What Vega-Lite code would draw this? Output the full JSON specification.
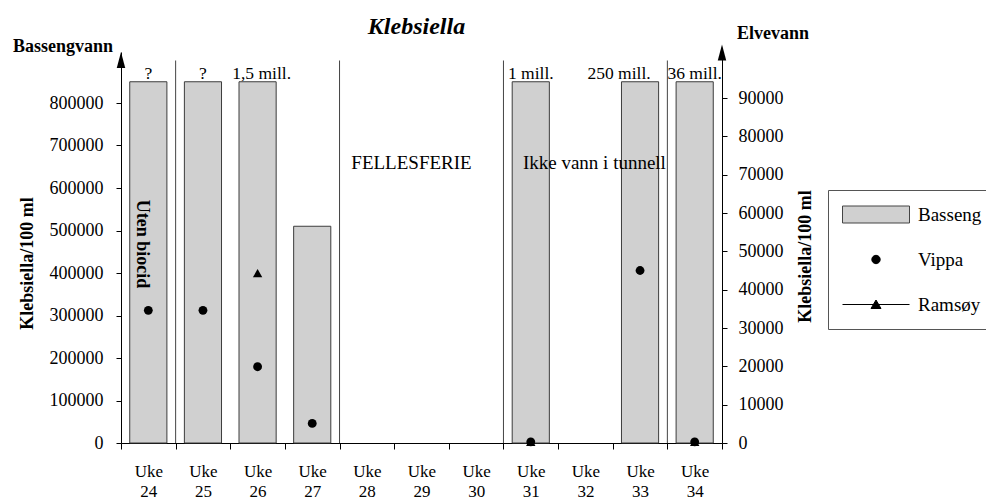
{
  "$schema": "https://vega.github.io/schema/vega-lite/v6.json",
  "width": 601,
  "height": 391,
  "autosize": "none",
  "padding": {"left": 121, "top": 52, "right": 264, "bottom": 57},
  "title": {"text": "Klebsiella", "font": "Liberation Serif", "fontSize": 24, "fontStyle": "italic", "fontWeight": "bold", "color": "black", "anchor": "middle", "dx": -5, "dy": 28, "offset": 14},
  "config": {
    "font": "Liberation Serif",
    "view": {"stroke": null},
    "axis": {"grid": false, "domainColor": "black", "tickColor": "black", "labelColor": "black", "titleColor": "black", "labelFont": "Liberation Serif", "titleFont": "Liberation Serif"},
    "text": {"color": "black", "font": "Liberation Serif"}
  },
  "datasets": {
    "weeks": [
      {"week": "Uke 24", "Basseng": 850000, "label": "?", "Vippa": 34600, "Ramsøy": null},
      {"week": "Uke 25", "Basseng": 850000, "label": "?", "Vippa": 34600, "Ramsøy": null},
      {"week": "Uke 26", "Basseng": 850000, "label": "1,5 mill.", "Vippa": 19900, "Ramsøy": 44300},
      {"week": "Uke 27", "Basseng": 510000, "label": null, "Vippa": 5100, "Ramsøy": null},
      {"week": "Uke 28", "Basseng": null, "label": null, "Vippa": null, "Ramsøy": null},
      {"week": "Uke 29", "Basseng": null, "label": null, "Vippa": null, "Ramsøy": null},
      {"week": "Uke 30", "Basseng": null, "label": null, "Vippa": null, "Ramsøy": null},
      {"week": "Uke 31", "Basseng": 850000, "label": "1 mill.", "Vippa": 300, "Ramsøy": 300},
      {"week": "Uke 32", "Basseng": null, "label": null, "Vippa": null, "Ramsøy": null},
      {"week": "Uke 33", "Basseng": 850000, "label": "250 mill.", "Vippa": 45000, "Ramsøy": null},
      {"week": "Uke 34", "Basseng": 850000, "label": "36 mill.", "Vippa": 300, "Ramsøy": 300}
    ],
    "separators": [
      {"sep": "Uke 25"}, {"sep": "Uke 28"}, {"sep": "Uke 31"}, {"sep": "Uke 34"}
    ]
  },
  "data": {"name": "weeks"},
  "resolve": {"scale": {"y": "independent"}},
  "layer": [
    {
      "layer": [
        {
          "mark": {"type": "bar", "fill": "#d0d0d0", "stroke": "#3c3c3c", "strokeWidth": 1, "width": {"band": 0.68}},
          "encoding": {
            "x": {"field": "week", "type": "ordinal",
              "scale": {"domain": ["Uke 24","Uke 25","Uke 26","Uke 27","Uke 28","Uke 29","Uke 30","Uke 31","Uke 32","Uke 33","Uke 34"], "paddingInner": 0, "paddingOuter": 0},
              "axis": {"title": null, "orient": "bottom", "tickBand": "extent", "labelAngle": 0, "labelExpr": "split(datum.label, ' ')", "labelFontSize": 17, "labelLineHeight": 20, "labelBaseline": "top", "tickSize": 6, "labelPadding": 14}},
            "y": {"field": "Basseng", "type": "quantitative",
              "scale": {"domain": [0, 920000], "nice": false},
              "axis": {"orient": "left", "values": [0,100000,200000,300000,400000,500000,600000,700000,800000], "format": "d", "labelFontSize": 18, "tickSize": 5, "labelPadding": 13,
                "title": "Klebsiella/100 ml", "titleFontSize": 18, "titleFontWeight": "bold", "titleAngle": 270, "titleX": -94, "titleY": 211, "titleAlign": "center", "titleBaseline": "middle"}}
          }
        },
        {
          "data": {"name": "separators"},
          "mark": {"type": "rule", "color": "#444", "strokeWidth": 1},
          "encoding": {
            "x": {"field": "sep", "type": "ordinal", "bandPosition": 0},
            "y": {"datum": 900000, "type": "quantitative"},
            "y2": {"datum": 0}
          }
        },
        {
          "transform": [{"filter": "datum.label != null && datum.label != '250 mill.' && datum.label != '1,5 mill.'"}],
          "mark": {"type": "text", "baseline": "alphabetic", "dy": -3, "fontSize": 17.5},
          "encoding": {
            "x": {"field": "week", "type": "ordinal"},
            "y": {"field": "Basseng", "type": "quantitative"},
            "text": {"field": "label"}
          }
        },
        {
          "transform": [{"filter": "datum.label == '1,5 mill.'"}],
          "mark": {"type": "text", "baseline": "alphabetic", "dy": -3, "dx": 4, "fontSize": 17.5},
          "encoding": {
            "x": {"field": "week", "type": "ordinal"},
            "y": {"field": "Basseng", "type": "quantitative"},
            "text": {"field": "label"}
          }
        },
        {
          "transform": [{"filter": "datum.label == '250 mill.'"}],
          "mark": {"type": "text", "baseline": "alphabetic", "dy": -3, "dx": -21, "fontSize": 17.5},
          "encoding": {
            "x": {"field": "week", "type": "ordinal"},
            "y": {"field": "Basseng", "type": "quantitative"},
            "text": {"field": "label"}
          }
        },
        {
          "data": {"values": [{}]},
          "mark": {"type": "text", "text": "FELLESFERIE", "fontSize": 19, "baseline": "middle", "dx": -10},
          "encoding": {
            "x": {"datum": "Uke 29", "type": "ordinal"},
            "y": {"datum": 660000, "type": "quantitative"}
          }
        },
        {
          "data": {"values": [{}]},
          "mark": {"type": "text", "text": "Ikke vann i tunnell", "fontSize": 19, "baseline": "middle", "dx": 9},
          "encoding": {
            "x": {"datum": "Uke 32", "type": "ordinal"},
            "y": {"datum": 660000, "type": "quantitative"}
          }
        },
        {
          "data": {"values": [{}]},
          "mark": {"type": "text", "text": "Uten biocid", "fontSize": 18, "fontWeight": "bold", "angle": 90, "align": "center", "baseline": "middle", "dy": 6},
          "encoding": {
            "x": {"datum": "Uke 24", "type": "ordinal"},
            "y": {"datum": 468000, "type": "quantitative"}
          }
        },
        {
          "data": {"values": [{}]},
          "mark": {"type": "text", "text": "Bassengvann", "fontSize": 18, "fontWeight": "bold", "align": "right", "baseline": "middle", "dx": -8, "dy": -5},
          "encoding": {
            "x": {"datum": "Uke 24", "type": "ordinal", "bandPosition": 0},
            "y": {"datum": 920000, "type": "quantitative"}
          }
        },
        {
          "data": {"values": [{}]},
          "mark": {"type": "text", "text": "Elvevann", "fontSize": 18, "fontWeight": "bold", "align": "left", "baseline": "middle", "dx": 15, "dy": -18},
          "encoding": {
            "x": {"datum": "Uke 34", "type": "ordinal", "bandPosition": 1},
            "y": {"datum": 920000, "type": "quantitative"}
          }
        },
        {
          "data": {"values": [{}]},
          "mark": {"type": "point", "shape": "M0,-1L0.45,0.7L-0.45,0.7Z", "size": 353, "filled": true, "color": "black", "opacity": 1},
          "encoding": {
            "x": {"datum": "Uke 24", "type": "ordinal", "bandPosition": 0},
            "y": {"datum": 898000, "type": "quantitative"}
          }
        }
      ]
    },
    {
      "layer": [
        {
          "mark": {"type": "point", "shape": "circle", "filled": true, "color": "black", "size": 78, "opacity": 1},
          "encoding": {
            "x": {"field": "week", "type": "ordinal"},
            "y": {"field": "Vippa", "type": "quantitative",
              "scale": {"domain": [0, 102000], "nice": false},
              "axis": {"orient": "right", "values": [0,10000,20000,30000,40000,50000,60000,70000,80000,90000], "format": "d", "labelFontSize": 18, "tickSize": 5, "labelPadding": 11,
                "title": "Klebsiella/100 ml", "titleFontSize": 18, "titleFontWeight": "bold", "titleAngle": 270, "titleX": 83, "titleY": 204, "titleAlign": "center", "titleBaseline": "middle"}}
          }
        },
        {
          "mark": {"type": "point", "shape": "triangle-up", "filled": true, "color": "black", "size": 88, "opacity": 1},
          "encoding": {
            "x": {"field": "week", "type": "ordinal"},
            "y": {"field": "Ramsøy", "type": "quantitative"}
          }
        },
        {
          "data": {"values": [{}]},
          "mark": {"type": "point", "shape": "M0,-1L0.45,0.7L-0.45,0.7Z", "size": 353, "filled": true, "color": "black", "opacity": 1},
          "encoding": {
            "x": {"datum": "Uke 34", "type": "ordinal", "bandPosition": 1},
            "y": {"datum": 101500, "type": "quantitative"}
          }
        },
        {
          "transform": [{"fold": ["Basseng", "Vippa", "Ramsøy"], "as": ["series", "value"]}],
          "mark": {"type": "point", "filled": true, "opacity": 0},
          "encoding": {
            "fill": {"field": "series", "type": "nominal",
              "scale": {"domain": ["Basseng", "Vippa", "Ramsøy"], "range": ["#d0d0d0", "black", "black"]},
              "legend": {"title": null, "orient": "none", "legendX": 707, "legendY": 138, "strokeColor": "#555", "fillColor": "white", "padding": 14, "symbolSize": 400, "symbolOpacity": 1, "symbolStrokeWidth": 1, "labelFontSize": 19, "labelFont": "Liberation Serif", "labelColor": "black", "labelOffset": 55, "rowPadding": 24}},
            "shape": {"field": "series", "type": "nominal",
              "scale": {"domain": ["Basseng", "Vippa", "Ramsøy"], "range": ["M-1,-0.85H5.7V0.85H-1Z", "M1.93,0A0.42,0.42 0 1,0 2.77,0A0.42,0.42 0 1,0 1.93,0Z", "M-1,0H5.7M2.35,-0.45L2.85,0.4L1.85,0.4Z"]},
              "legend": {"title": null, "orient": "none", "legendX": 707, "legendY": 138, "strokeColor": "#555", "fillColor": "white", "padding": 14, "symbolSize": 400, "symbolOpacity": 1, "symbolStrokeWidth": 1, "labelFontSize": 19, "labelFont": "Liberation Serif", "labelColor": "black", "labelOffset": 55, "rowPadding": 24}},
            "stroke": {"field": "series", "type": "nominal",
              "scale": {"domain": ["Basseng", "Vippa", "Ramsøy"], "range": ["#444", "black", "black"]},
              "legend": {"title": null, "orient": "none", "legendX": 707, "legendY": 138, "strokeColor": "#555", "fillColor": "white", "padding": 14, "symbolSize": 400, "symbolOpacity": 1, "symbolStrokeWidth": 1, "labelFontSize": 19, "labelFont": "Liberation Serif", "labelColor": "black", "labelOffset": 55, "rowPadding": 24}}
          }
        }
      ]
    }
  ]
}
